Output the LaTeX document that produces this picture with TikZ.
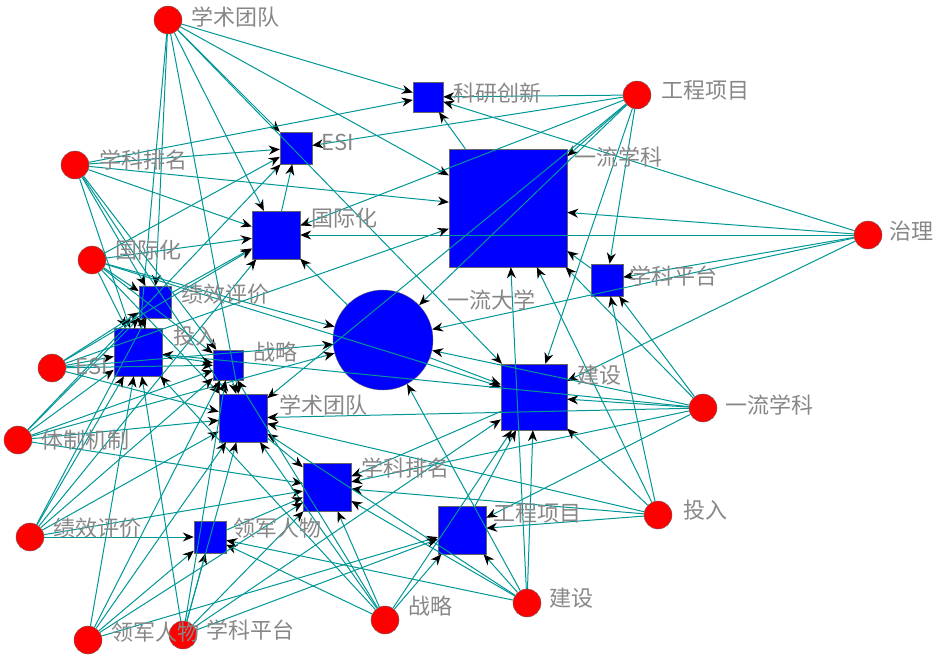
\documentclass[tikz,border=0pt]{standalone}
\usepackage{fontspec}
\newfontfamily\cjk{Noto Sans CJK SC}
\usetikzlibrary{arrows.meta}
\definecolor{edgeteal}{RGB}{0,150,150}
\definecolor{lblgray}{RGB}{135,135,135}
\tikzset{
  actor/.style={circle, draw=black!60, fill=red, minimum size=28pt, inner sep=0pt},
  topic/.style={rectangle, draw=black!60, fill=blue, inner sep=0pt},
  lbl/.style={font=\cjk\fontsize{22}{22}\selectfont, text=lblgray, inner sep=1pt},
  tie/.style={edgeteal, line width=1pt, -{Stealth[length=11pt,width=9pt,black]}}
}
\begin{document}
\begin{tikzpicture}[x=1pt,y=-1pt]
\useasboundingbox (0,0) rectangle (950,664);
% blue topic nodes
\node[topic, minimum size=30pt] (kycx) at (428,97) {};
\node[topic, minimum size=32pt] (esi) at (296,148) {};
\node[topic, minimum size=118pt] (ylxk) at (508,208) {};
\node[topic, minimum size=48pt] (gjh) at (276,235) {};
\node[topic, minimum size=32pt] (xkpt) at (607,280) {};
\node[topic, minimum size=32pt] (jxpj) at (155,302) {};
\node[topic, minimum size=48pt] (tr) at (138,352) {};
\node[topic, minimum size=30pt] (zl) at (228,365) {};
\node[circle, draw=black!60, fill=blue, minimum size=100pt, inner sep=0pt] (yldx) at (383,340) {};
\node[topic, minimum size=48pt] (xstd) at (243,418) {};
\node[topic, minimum size=66pt] (js) at (534,397) {};
\node[topic, minimum size=48pt] (xkpm) at (327,487) {};
\node[topic, minimum size=48pt] (gcxm) at (462,530) {};
\node[topic, minimum size=32pt] (ljrw) at (210,537) {};
% red actor nodes
\node[actor] (a1) at (168,20) {};
\node[actor] (a2) at (637,95) {};
\node[actor] (a3) at (75,165) {};
\node[actor] (a4) at (868,235) {};
\node[actor] (a5) at (92,260) {};
\node[actor] (a6) at (52,368) {};
\node[actor] (a7) at (703,408) {};
\node[actor] (a8) at (18,440) {};
\node[actor] (a9) at (658,515) {};
\node[actor] (a10) at (30,537) {};
\node[actor] (a11) at (527,603) {};
\node[actor] (a12) at (385,620) {};
\node[actor] (a13) at (88,640) {};
\node[actor] (a14) at (183,635) {};
% connectors
\foreach \a/\targets in {
  a1/{kycx,esi,ylxk,gjh,jxpj,tr,xstd,js},
  a2/{kycx,ylxk,gjh,xkpt,yldx,esi,js,xstd},
  a3/{esi,gjh,jxpj,tr,ylxk,zl,xstd,kycx},
  a4/{ylxk,xkpt,js,gjh,kycx,yldx},
  a5/{jxpj,tr,esi,gjh,zl,xstd,yldx,js},
  a6/{tr,jxpj,zl,xstd,gjh,yldx,ylxk},
  a7/{js,xkpt,ylxk,yldx,xstd,xkpm,gcxm,tr},
  a8/{tr,xstd,zl,jxpj,xkpm,yldx,esi},
  a9/{gcxm,js,xkpm,xkpt,ylxk,xstd},
  a10/{ljrw,xstd,tr,zl,xkpm,jxpj,gjh},
  a11/{gcxm,xkpm,js,xstd,ljrw,ylxk,yldx},
  a12/{gcxm,xkpm,ljrw,xstd,js,zl,tr},
  a13/{ljrw,xstd,xkpm,gcxm,tr,zl},
  a14/{ljrw,xkpm,xstd,gcxm,js,zl,tr}}
  \foreach \t in \targets
    \draw[tie] (\a) -- (\t);
\foreach \s/\t in {ylxk/kycx, gjh/esi, yldx/js, tr/zl, xstd/xkpm, gcxm/js, jxpj/gjh, zl/xstd, xkpt/ylxk, ljrw/xkpm, yldx/gjh, js/xkpm}
  \draw[tie] (\s) -- (\t);
% labels
\node[lbl, right] at (452,93) {科研创新};
\node[lbl, right] at (320,142) {ESI};
\node[lbl, right] at (573,157) {一流学科};
\node[lbl, right] at (310,218) {国际化};
\node[lbl, right] at (628,276) {学科平台};
\node[lbl, right] at (180,294) {绩效评价};
\node[lbl, right] at (172,336) {投入};
\node[lbl, right] at (252,352) {战略};
\node[lbl, right] at (446,300) {一流大学};
\node[lbl, right] at (278,405) {学术团队};
\node[lbl, right] at (576,375) {建设};
\node[lbl, right] at (360,468) {学科排名};
\node[lbl, right] at (492,513) {工程项目};
\node[lbl, right] at (232,528) {领军人物};
\node[lbl, right] at (190,17) {学术团队};
\node[lbl, right] at (660,90) {工程项目};
\node[lbl, right] at (98,160) {学科排名};
\node[lbl, right] at (888,231) {治理};
\node[lbl, right] at (114,250) {国际化};
\node[lbl, right] at (74,366) {ESI};
\node[lbl, right] at (724,405) {一流学科};
\node[lbl, right] at (40,440) {体制机制};
\node[lbl, right] at (682,510) {投入};
\node[lbl, right] at (52,528) {绩效评价};
\node[lbl, right] at (548,598) {建设};
\node[lbl, right] at (407,606) {战略};
\node[lbl, right] at (110,632) {领军人物};
\node[lbl, right] at (205,630) {学科平台};
\end{tikzpicture}
\end{document}
